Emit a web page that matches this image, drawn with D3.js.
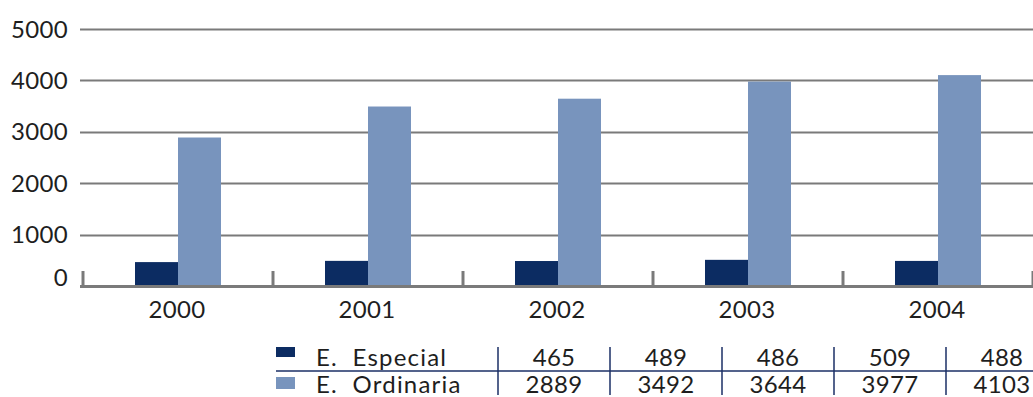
<!DOCTYPE html>
<html>
<head>
<meta charset="utf-8">
<script src="https://cdn.jsdelivr.net/npm/d3@7"></script>
<style>
  html, body { margin: 0; padding: 0; background: #fff; }
  svg { display: block; }
  text { font-family: Lato, "Open Sans", sans-serif; fill: #1e1e1e; }
</style>
</head>
<body>
<svg id="chart" width="1033" height="397"></svg>
<script>
// Alumnado por tipo de educación
const years = ["2000", "2001", "2002", "2003", "2004"];
const especial = [465, 489, 486, 509, 488];
const ordinaria = [2889, 3492, 3644, 3977, 4103];
const seriesNames = ["E.  Especial", "E.  Ordinaria"];
const yTicks = [0, 1000, 2000, 3000, 4000, 5000];

const colors = ["#0c2c62", "#7894bd"];
const series = [especial, ordinaria];

const W = 1033, H = 397;
const svg = d3.select("#chart");

const left = 82, baseY = 286, topY = 29;
const step = 190;
const fs = 24;

const x = d3.scaleBand().domain(years).range([left, left + step * years.length]).paddingInner(0).paddingOuter(0);
const y = d3.scaleLinear().domain([0, 5000]).range([baseY, topY]);
const barW = 43;

// horizontal gridlines
svg.append("g").selectAll("line")
  .data(yTicks.filter(d => d > 0))
  .join("line")
  .attr("x1", 80).attr("x2", W)
  .attr("y1", d => Math.round(y(d)) + 0.5).attr("y2", d => Math.round(y(d)) + 0.5)
  .attr("stroke", "#7a7a7a").attr("stroke-width", 2);

// y tick labels
svg.append("g").selectAll("text")
  .data(yTicks)
  .join("text")
  .attr("x", 68)
  .attr("y", d => Math.min(y(d), baseY - 9))
  .attr("dy", "0.36em")
  .attr("text-anchor", "end")
  .attr("font-size", fs)
  .attr("letter-spacing", 0.3)
  .text(d => d);

// bars
const groups = svg.append("g").selectAll("g")
  .data(years)
  .join("g")
  .attr("transform", d => `translate(${x(d) + x.bandwidth() / 2 + 1},0)`);

series.forEach((vals, si) => {
  groups.append("rect")
    .attr("x", si === 0 ? -barW : 0)
    .attr("width", barW)
    .attr("y", (d, i) => y(vals[i]))
    .attr("height", (d, i) => baseY - y(vals[i]))
    .attr("fill", colors[si]);
});

// baseline axis
svg.append("line")
  .attr("x1", 80).attr("x2", W)
  .attr("y1", baseY + 0.5).attr("y2", baseY + 0.5)
  .attr("stroke", "#7a7a7a").attr("stroke-width", 3);

// category boundary ticks
const bounds = years.map(d => x(d)).concat([x(years[years.length - 1]) + x.step()]);
svg.append("g").selectAll("line")
  .data(bounds)
  .join("line")
  .attr("x1", d => d + 1).attr("x2", d => d + 1)
  .attr("y1", 271).attr("y2", baseY)
  .attr("stroke", "#7a7a7a").attr("stroke-width", 3);

// year labels
svg.append("g").selectAll("text")
  .data(years)
  .join("text")
  .attr("x", d => x(d) + x.bandwidth() / 2)
  .attr("y", 318)
  .attr("text-anchor", "middle")
  .attr("font-size", fs)
  .attr("letter-spacing", 0.3)
  .text(d => d);

// data table below the chart
const tx = d3.scaleBand().domain(years).range([498, 498 + 112 * years.length]);
const rowBase = [366, 393];
const navy = "#1b2f66";

svg.append("line")
  .attr("x1", 276).attr("x2", W)
  .attr("y1", 371).attr("y2", 371)
  .attr("stroke", navy).attr("stroke-width", 1.5);

svg.append("g").selectAll("line")
  .data(years)
  .join("line")
  .attr("x1", d => tx(d)).attr("x2", d => tx(d))
  .attr("y1", 347).attr("y2", 395)
  .attr("stroke", navy).attr("stroke-width", 1.5);

seriesNames.forEach((name, si) => {
  svg.append("rect")
    .attr("x", 276).attr("y", si === 0 ? 347 : 377)
    .attr("width", 19).attr("height", si === 0 ? 10 : 12)
    .attr("fill", colors[si]);
  svg.append("text")
    .attr("x", 316).attr("y", rowBase[si])
    .attr("font-size", fs)
    .attr("letter-spacing", 1.2)
    .attr("xml:space", "preserve")
    .style("white-space", "pre")
    .text(name);
  svg.append("g").selectAll("text")
    .data(years)
    .join("text")
    .attr("x", (d) => tx(d) + tx.bandwidth() / 2)
    .attr("y", rowBase[si])
    .attr("text-anchor", "middle")
    .attr("font-size", fs)
    .attr("letter-spacing", 0.3)
    .text((d, i) => series[si][i]);
});
</script>
</body>
</html>
